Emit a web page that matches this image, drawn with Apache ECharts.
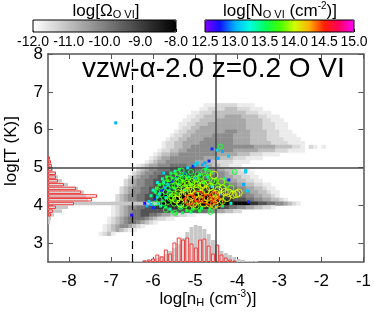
<!DOCTYPE html>
<html><head><meta charset="utf-8">
<script src="https://cdn.jsdelivr.net/npm/echarts@6/dist/echarts.min.js"></script>
<style>html,body{margin:0;padding:0;background:#fff}#c{width:374px;height:312px}</style>
</head><body><div id="c"></div>
<script>
const F = 'Liberation Sans, Arial, Helvetica, sans-serif';
// axis ticks
const xTicks = [-8, -7, -6, -5, -4, -3, -2, -1];
const yTicks = [3, 4, 5, 6, 7, 8];
const omegaTicks = [-12, -11, -10, -9, -8];
const nTicks = [12.5, 13, 13.5, 14, 14.5, 15];
// reference lines
const refLinesX = [-6.5, -4.5];
const refLinesY = [5];
// phase diagram (log Omega_OVI) : level codes -> log Omega
const omegaLevels = [null, -11.7, -11.4, -11.0, -10.6, -10.2, -9.8, -9.3, -8.8, -8.1];
// rows: [logT bin start, first logNH bin start, level codes per 0.1 dex bin]
const phaseRows = [
  [6.6, -4.8, "111222221111"],
  [6.5, -4.9, "112222333222111"],
  [6.4, -5.1, "1122233333333222111"],
  [6.3, -5.2, "1122333334444333322111"],
  [6.2, -5.3, "112233334444444333322111"],
  [6.1, -5.4, "11223334444444443333222111"],
  [6.0, -5.4, "12233444444444443333222111"],
  [5.9, -5.5, "1223344444445554443333222111"],
  [5.8, -5.6, "122334444455555444433332221111"],
  [5.7, -5.7, "12233444455555554444333322221111"],
  [5.6, -5.8, "1223344445555555544443333322221111"],
  [5.5, -5.8, "122334455555555555555544444333322102101"],
  [5.4, -5.9, "12233445555555555544444433332221111"],
  [5.3, -6.0, "123344555555555444443332221111"],
  [5.2, -6.1, "123445555555544443332221111"],
  [5.1, -6.2, "1234455555554443322221111"],
  [5.0, -6.4, "1234455566665554443322111"],
  [4.9, -6.4, "234556667777776665544332211"],
  [4.8, -6.5, "23455667777777776665554332211"],
  [4.7, -6.6, "2345566777788887776665544332211"],
  [4.6, -6.7, "234556677788888887776665544332211"],
  [4.5, -6.7, "23455667788888888887776665544332211"],
  [4.4, -6.8, "2345566778888888888888777666554433211"],
  [4.3, -6.8, "23455667788888888888888777666554433211"],
  [4.2, -6.9, "234556677889999999999998887776655443321"],
  [4.1, -6.9, "23455667788999999999999998887776655443321"],
  [4.0, -7.0, "123455667788999999999999999999999887766554321"],
  [3.9, -7.0, "123455667788888888888888887766554433221"],
  [3.8, -7.0, "1234566777777777777776655443322"],
  [3.7, -7.0, "12345667766544332211"],
  [3.6, -7.1, "1234566665432211"],
  [3.5, -7.1, "123456654321"],
  [3.4, -7.2, "1234554321"],
  [3.3, -7.2, "12343211"],
  [3.2, -7.3, "1231"]
];
// absorbers shown as small squares: [log nH, log T, log N_OVI]
const squarePts = [
  [-6.89,6.18,13.0],
  [-4.60,5.49,12.8],[-4.48,5.46,13.1],[-4.35,5.42,13.0],[-4.21,5.30,13.1],[-4.46,5.24,13.0],[-4.67,5.17,12.8],
  [-4.77,5.12,13.0],[-4.83,5.07,13.0],[-4.95,5.12,13.1],[-4.72,5.02,13.1],[-5.05,5.03,12.8],
  [-3.80,4.92,13.1],[-3.80,4.88,13.1],[-4.20,4.67,12.8],[-3.76,4.38,13.1],[-3.73,4.09,12.8],[-3.85,4.55,13.0],
  [-6.51,3.74,12.7],[-6.00,3.93,12.8],[-5.97,3.95,12.8],[-6.05,4.02,13.0],[-6.10,4.10,13.1],[-5.95,4.15,12.7],
  [-5.90,4.22,13.1],[-5.85,4.30,13.2],[-5.80,4.40,12.8],[-5.72,4.47,13.0],[-5.65,4.55,13.1],[-5.55,4.62,12.8],
  [-5.45,4.70,13.1],[-5.35,4.78,13.0],[-5.25,4.85,12.8],[-5.18,4.99,13.1],[-5.00,5.07,13.1],[-5.88,4.05,13.3],
  [-5.78,4.12,13.0],[-5.70,4.20,13.3],[-5.60,4.28,13.5],[-5.62,4.38,13.2],[-5.50,4.45,13.4],[-5.40,4.55,13.3],
  [-5.82,3.98,13.4],[-5.70,3.95,13.5],[-5.55,3.82,13.6],[-5.45,3.78,13.6],[-5.30,3.80,13.5],[-5.20,3.86,13.6],
  [-5.60,3.90,13.3],[-5.35,3.95,13.4],[-5.10,4.55,13.2],[-5.00,4.70,13.0],[-4.90,4.80,13.3],[-4.80,4.60,13.5],
  [-4.60,4.50,13.2],[-4.40,4.30,12.9],[-4.30,4.70,13.4],[-4.50,3.95,13.4],[-4.85,3.92,13.5],[-5.05,3.90,13.6],
  [-5.95,4.35,13.5],[-6.15,3.98,13.0],[-6.20,4.05,12.7],[-5.75,4.60,13.3],[-5.25,4.40,13.4],[-4.95,4.35,13.5],
  [-5.15,4.75,13.4],[-4.70,4.75,13.2],
  [-5.92,4.45,13.6],[-5.85,4.55,13.5],[-5.78,4.70,13.4],[-5.68,4.75,13.6],[-5.58,4.85,13.5],[-5.48,4.90,13.3],
  [-5.38,4.95,13.5],[-5.65,4.65,13.7],[-5.55,4.72,13.6],[-5.45,4.82,13.7],[-5.30,4.65,13.6],[-5.20,4.72,13.7],
  [-6.05,4.25,13.4],[-6.00,4.40,13.3],[-5.90,4.60,13.2],[-5.75,4.85,13.1],[-4.75,4.95,13.4],[-4.50,4.70,13.6],
  [-4.65,3.90,13.6],[-4.35,3.98,13.5],[-4.15,4.05,13.3],[-5.10,3.82,13.5],[-4.90,3.85,13.6]
];
// absorbers shown as open circles: [log nH, log T, log N_OVI]
const circlePts = [
  [-5.95,4.05,13.6],[-5.85,4.15,13.7],[-5.80,4.28,13.6],[-5.75,4.05,13.5],[-5.70,4.35,13.6],[-5.65,4.45,13.5],
  [-5.60,4.18,13.7],[-5.55,4.52,13.6],[-5.50,4.30,13.7],[-5.45,4.62,13.6],[-5.40,4.40,13.8],[-5.35,4.70,13.6],
  [-5.30,4.55,13.7],[-5.25,4.80,13.5],[-5.20,4.62,13.7],[-5.15,4.45,13.8],[-5.10,4.88,13.6],[-5.05,4.70,13.7],
  [-5.00,4.55,13.8],[-4.95,4.82,13.6],[-4.90,4.65,13.7],[-4.85,4.50,13.9],[-4.80,4.90,13.6],[-4.75,4.72,13.7],
  [-4.70,4.58,13.8],[-4.65,4.85,13.6],[-4.60,4.65,13.7],[-4.40,5.55,13.6],[-4.06,4.88,13.6],[-4.25,4.54,13.7],
  [-4.64,3.82,13.6],[-4.35,4.10,13.7],[-4.45,4.52,13.6],[-5.65,4.10,13.8],[-5.50,4.05,13.7],[-5.40,4.20,13.8],
  [-5.35,3.95,13.6],[-5.25,4.02,13.8],[-5.70,3.88,13.6],[-5.48,3.80,13.6],[-5.15,3.92,13.7],[-4.98,3.98,13.8],
  [-5.90,4.35,13.6],[-5.82,4.50,13.7],[-5.72,4.60,13.6],[-5.62,4.70,13.7],[-5.52,4.78,13.6],[-5.42,4.85,13.7],
  [-5.32,4.92,13.6],[-5.60,4.30,13.8],[-5.48,4.52,13.8],[-5.38,4.62,13.9],[-5.28,4.72,13.8],[-5.18,4.55,13.9],
  [-5.08,4.62,13.9],[-4.98,4.70,13.8],[-4.88,4.75,13.8],[-4.70,4.88,13.7],[-4.55,4.62,13.8],[-4.38,4.62,13.9],
  [-4.15,4.45,13.8],
  [-5.55,4.22,13.9],[-5.40,4.32,13.95],[-5.25,4.45,13.9],[-5.10,4.38,13.95],[-4.95,4.55,13.9],[-4.80,4.55,13.95],
  [-4.65,4.48,14.0],[-4.50,4.30,14.0],[-4.25,4.20,14.1],[-4.35,4.45,13.95],
  [-5.45,4.15,14.0],[-5.30,4.25,14.0],[-5.20,4.35,14.1],[-5.10,4.22,14.0],[-5.05,4.05,14.1],[-4.95,4.45,14.0],
  [-4.90,4.15,14.1],[-4.85,4.30,14.0],[-4.75,4.40,14.1],[-4.70,4.20,14.0],[-4.65,4.05,14.1],[-4.60,4.32,14.0],
  [-4.55,4.80,14.05],[-4.50,4.15,14.1],[-4.45,4.40,14.0],[-4.40,4.25,14.1],[-4.30,4.35,14.0],[-4.20,4.33,14.05],
  [-4.10,4.28,14.0],[-3.97,4.33,14.05],[-4.02,4.30,14.0],[-4.55,4.02,14.1],[-5.00,4.28,14.0],[-5.15,4.10,14.05],
  [-5.35,4.05,14.0],[-4.80,4.05,14.0],
  [-5.10,4.15,14.3],[-4.95,4.25,14.35],[-4.80,4.18,14.3],[-4.62,4.12,14.25],[-4.55,4.25,14.3],[-4.45,4.08,14.3],
  [-5.00,4.12,14.3],
  [-5.14,4.14,14.55],[-4.91,4.23,14.6],[-4.55,4.20,14.5],[-4.70,4.15,14.5]
];
// temperature histograms (arbitrary counts), bins of 0.1 dex
const tBinsGray = [3.5,3.6,3.7,3.8,3.9,4.0,4.1,4.2,4.3,4.4,4.5,4.6,4.7,4.8,4.9,5.0,5.1];
const tCountsGray = [2,3,6,14,20,112,40,38,36,30,20,14,10,8,5,3,2];
const tBinsRed = [3.7,3.8,3.9,4.0,4.1,4.2,4.3,4.4,4.5,4.6,4.7,4.8,4.9,5.0,5.1,5.2];
const tCountsRed = [2,4,7,25,43,48,32,27,15,9,7,7,3,3,2,1];
// density histograms (arbitrary counts)
const nBinsGray = [-6.6,-6.5,-6.4,-6.3,-6.2,-6.1,-6.0,-5.9,-5.8,-5.7,-5.6,-5.5,-5.4,-5.3,-5.2,-5.1,-5.0,-4.9,-4.8,-4.7,-4.6,-4.5,-4.4,-4.3,-4.2,-4.1,-4.0,-3.9,-3.8,-3.7];
const nCountsGray = [1,1,1,2,2,3,4,6,8,11,14,18,24,30,35,37,36,33,28,22,17,11,9,7,5,3,2,1,1,1];
const nBinsRed = [-6.3,-6.2,-6.1,-6.0,-5.9,-5.8,-5.7,-5.6,-5.5,-5.4,-5.3,-5.2,-5.1,-5.0,-4.9,-4.8,-4.7,-4.6,-4.5,-4.4,-4.3,-4.2];
const nCountsRed = [1,2,3,7,5,12,8,19,24,22,24,18,14,22,23,16,8,17,7,4,2,1];
const rainbow = ['#8000ff','#1010ff','#00b0ff','#00ffe0','#00ff60','#40ff00','#d0ff00','#ffb000','#ff2000','#ff0060','#ff00ff'];

const heatData = [];
phaseRows.forEach(([t, n0, s]) => {
  for (let i = 0; i < s.length; i++) {
    const d = +s[i];
    if (d > 0) heatData.push([+(n0 + 0.1 * i).toFixed(2), t, omegaLevels[d]]);
  }
});
const BW = 0.1;
const zip = (a, b) => a.map((v, i) => [v, b[i]]);

const chart = echarts.init(document.getElementById('c'), null, {renderer: 'canvas', width: 374, height: 312});
const G = {left: 48, top: 54, width: 321, height: 208};
const lblStyle = {color: '#000', fontFamily: F, fontSize: 17};
const frameLine = {show: true, lineStyle: {color: '#555', width: 1.5}};
const cbLabel = {margin: 3, color: '#000', fontFamily: F, fontSize: 14, formatter: v => v.toFixed(1)};

chart.setOption({
  animation: false,
  grid: [
    Object.assign({}, G),
    Object.assign({}, G),
    Object.assign({}, G),
    {left: 33, top: 20, width: 143, height: 12, show: true, borderColor: '#000', borderWidth: 1, backgroundColor: 'transparent', z: 10},
    {left: 205, top: 20, width: 149, height: 12, show: true, borderColor: '#000', borderWidth: 1, backgroundColor: 'transparent', z: 10}
  ],
  xAxis: [
    {type: 'value', gridIndex: 0, min: -8.5, max: -1, position: 'bottom', axisLine: frameLine,
     axisTick: {inside: true, length: 5, customValues: xTicks, lineStyle: {color: '#555'}},
     axisLabel: Object.assign({customValues: xTicks, margin: 11}, lblStyle), splitLine: {show: false}},
    {type: 'value', gridIndex: 0, min: -8.5, max: -1, position: 'top', axisLine: frameLine,
     axisTick: {inside: true, length: 5, customValues: xTicks, lineStyle: {color: '#555'}},
     axisLabel: {show: false}, splitLine: {show: false}},
    {type: 'value', gridIndex: 1, min: 0, max: 321, show: false},
    {type: 'value', gridIndex: 2, min: -8.5, max: -1, show: false},
    {type: 'value', gridIndex: 3, min: -12, max: -8, axisLine: {show: false},
     axisTick: {inside: true, length: 3, customValues: omegaTicks, lineStyle: {color: '#000'}},
     axisLabel: Object.assign({customValues: omegaTicks}, cbLabel), splitLine: {show: false}},
    {type: 'value', gridIndex: 4, min: 12.5, max: 15, axisLine: {show: false},
     axisTick: {inside: true, length: 3, customValues: nTicks, lineStyle: {color: '#000'}},
     axisLabel: Object.assign({customValues: nTicks}, cbLabel), splitLine: {show: false}}
  ],
  yAxis: [
    {type: 'value', gridIndex: 0, min: 2.5, max: 8, position: 'left', axisLine: frameLine,
     axisTick: {inside: true, length: 5, customValues: yTicks, lineStyle: {color: '#555'}},
     axisLabel: Object.assign({customValues: yTicks, margin: 5}, lblStyle), splitLine: {show: false}},
    {type: 'value', gridIndex: 0, min: 2.5, max: 8, position: 'right', axisLine: frameLine,
     axisTick: {inside: true, length: 5, customValues: yTicks, lineStyle: {color: '#555'}},
     axisLabel: {show: false}, splitLine: {show: false}},
    {type: 'value', gridIndex: 1, min: 2.5, max: 8, show: false},
    {type: 'value', gridIndex: 2, min: 0, max: 208, show: false},
    {type: 'value', gridIndex: 3, show: false},
    {type: 'value', gridIndex: 4, show: false}
  ],
  visualMap: [
    {type: 'continuous', seriesIndex: [0], dimension: 2, min: -12, max: -8,
     inRange: {color: ['#ffffff', '#000000']}, orient: 'horizontal', left: 33, top: 20,
     itemWidth: 12, itemHeight: 143, calculable: false, hoverLink: false, padding: 0, text: null, showLabel: false},
    {type: 'continuous', seriesIndex: [6, 7], dimension: 2, min: 12.5, max: 15,
     inRange: {color: rainbow}, orient: 'horizontal', left: 205, top: 20,
     itemWidth: 12, itemHeight: 149, calculable: false, hoverLink: false, padding: 0, text: null, showLabel: false}
  ],
  series: [
    {type: 'custom', name: 'phase', xAxisIndex: 0, yAxisIndex: 0, z: 1, clip: true, data: heatData,
     renderItem: (p, api) => {
       const x = api.value(0), y = api.value(1);
       const a = api.coord([x, y + BW]), b = api.coord([x + BW, y]);
       return {type: 'rect', shape: {x: a[0], y: a[1], width: b[0] - a[0] + 0.4, height: b[1] - a[1] + 0.4},
               style: {fill: api.visual('color')}};
     }},
    {type: 'custom', name: 'Thist all', xAxisIndex: 2, yAxisIndex: 2, z: 2, data: zip(tBinsGray, tCountsGray),
     renderItem: (p, api) => {
       const t = api.value(0), c = api.value(1);
       const a = api.coord([0, t + BW]), b = api.coord([c, t]);
       return {type: 'rect', shape: {x: a[0], y: a[1] + 0.3, width: b[0] - a[0], height: b[1] - a[1] - 0.3},
               style: {fill: '#c8c8c8'}};
     }},
    {type: 'custom', name: 'Thist OVI', xAxisIndex: 2, yAxisIndex: 2, z: 3, data: zip(tBinsRed, tCountsRed),
     renderItem: (p, api) => {
       const t = api.value(0), c = api.value(1);
       const a = api.coord([0, t + BW]), b = api.coord([c, t]);
       return {type: 'rect', shape: {x: a[0] + 0.5, y: a[1] + 0.8, width: b[0] - a[0], height: b[1] - a[1] - 1.3},
               style: {fill: 'rgba(255,255,255,0.35)', stroke: '#f03c3c', lineWidth: 1}};
     }},
    {type: 'custom', name: 'nhist all', xAxisIndex: 3, yAxisIndex: 3, z: 2, data: zip(nBinsGray, nCountsGray),
     renderItem: (p, api) => {
       const n = api.value(0), c = api.value(1);
       const a = api.coord([n, c]), b = api.coord([n + BW, 0]);
       return {type: 'rect', shape: {x: a[0] + 0.3, y: a[1], width: b[0] - a[0] - 0.3, height: b[1] - a[1]},
               style: {fill: '#c8c8c8'}};
     }},
    {type: 'custom', name: 'nhist OVI', xAxisIndex: 3, yAxisIndex: 3, z: 3, data: zip(nBinsRed, nCountsRed),
     renderItem: (p, api) => {
       const n = api.value(0), c = api.value(1);
       const a = api.coord([n, c]), b = api.coord([n + BW, 0]);
       return {type: 'rect', shape: {x: a[0] + 0.8, y: a[1], width: b[0] - a[0] - 1.3, height: b[1] - a[1] - 0.5},
               style: {fill: 'rgba(255,255,255,0.35)', stroke: '#f03c3c', lineWidth: 1}};
     }},
    {type: 'scatter', name: 'lines', xAxisIndex: 0, yAxisIndex: 0, z: 4, data: [],
     markLine: {silent: true, symbol: ['none', 'none'], label: {show: false}, animation: false,
       data: [
         {xAxis: refLinesX[0], lineStyle: {type: [8, 5], color: '#000', width: 1.2}},
         {xAxis: refLinesX[1], lineStyle: {type: 'solid', color: '#444', width: 1.5}},
         {yAxis: refLinesY[0], lineStyle: {type: 'solid', color: '#444', width: 1.5}}
       ]}},
    {type: 'scatter', name: 'weak', xAxisIndex: 0, yAxisIndex: 0, z: 5, symbol: 'rect', symbolSize: 3,
     data: squarePts, itemStyle: {opacity: 1}},
    {type: 'custom', name: 'strong', xAxisIndex: 0, yAxisIndex: 0, z: 6, data: circlePts,
     renderItem: (p, api) => {
       const c = api.coord([api.value(0), api.value(1)]);
       const r = Math.max(1.8, 2.2 + (api.value(2) - 13.5) * 2.8);
       return {type: 'circle', shape: {cx: c[0], cy: c[1], r: r},
               style: {fill: 'none', stroke: api.visual('color'), lineWidth: 1}};
     }}
  ],
  graphic: [
    {type: 'text', x: 106, y: 11, z: 20, style: {text: '{a|log[Ω}{s|O VI}{a|]}', align: 'center', verticalAlign: 'middle',
      rich: {a: {fontSize: 17, fontFamily: F, fill: '#000'}, s: {fontSize: 11, fontFamily: F, fill: '#000', padding: [8, 0, 0, 0]}}}},
    {type: 'text', x: 280, y: 11, z: 20, style: {text: '{a|log[N}{s|O VI}{a| (cm}{p|-2}{a|)]}', align: 'center', verticalAlign: 'middle',
      rich: {a: {fontSize: 17, fontFamily: F, fill: '#000'}, s: {fontSize: 11, fontFamily: F, fill: '#000', padding: [8, 0, 0, 0]},
             p: {fontSize: 10, fontFamily: F, fill: '#000', padding: [0, 0, 9, 0]}}}},
    {type: 'text', x: 82, y: 69, z: 20, style: {text: 'vzw-α-2.0 z=0.2 O VI', fontSize: 28, fontFamily: F, fill: '#000', align: 'left', verticalAlign: 'middle'}},
    {type: 'text', x: 11, y: 151, z: 20, rotation: Math.PI / 2, style: {text: 'log[T (K)]', fontSize: 17, fontFamily: F, fill: '#000', align: 'center', verticalAlign: 'middle'}},
    {type: 'text', x: 208, y: 299, z: 20, style: {text: '{a|log[n}{s|H}{a| (cm}{p|-3}{a|)]}', align: 'center', verticalAlign: 'middle',
      rich: {a: {fontSize: 17, fontFamily: F, fill: '#000'}, s: {fontSize: 11, fontFamily: F, fill: '#000', padding: [8, 0, 0, 0]},
             p: {fontSize: 10, fontFamily: F, fill: '#000', padding: [0, 0, 9, 0]}}}}
  ]
});
</script>
</body></html>
